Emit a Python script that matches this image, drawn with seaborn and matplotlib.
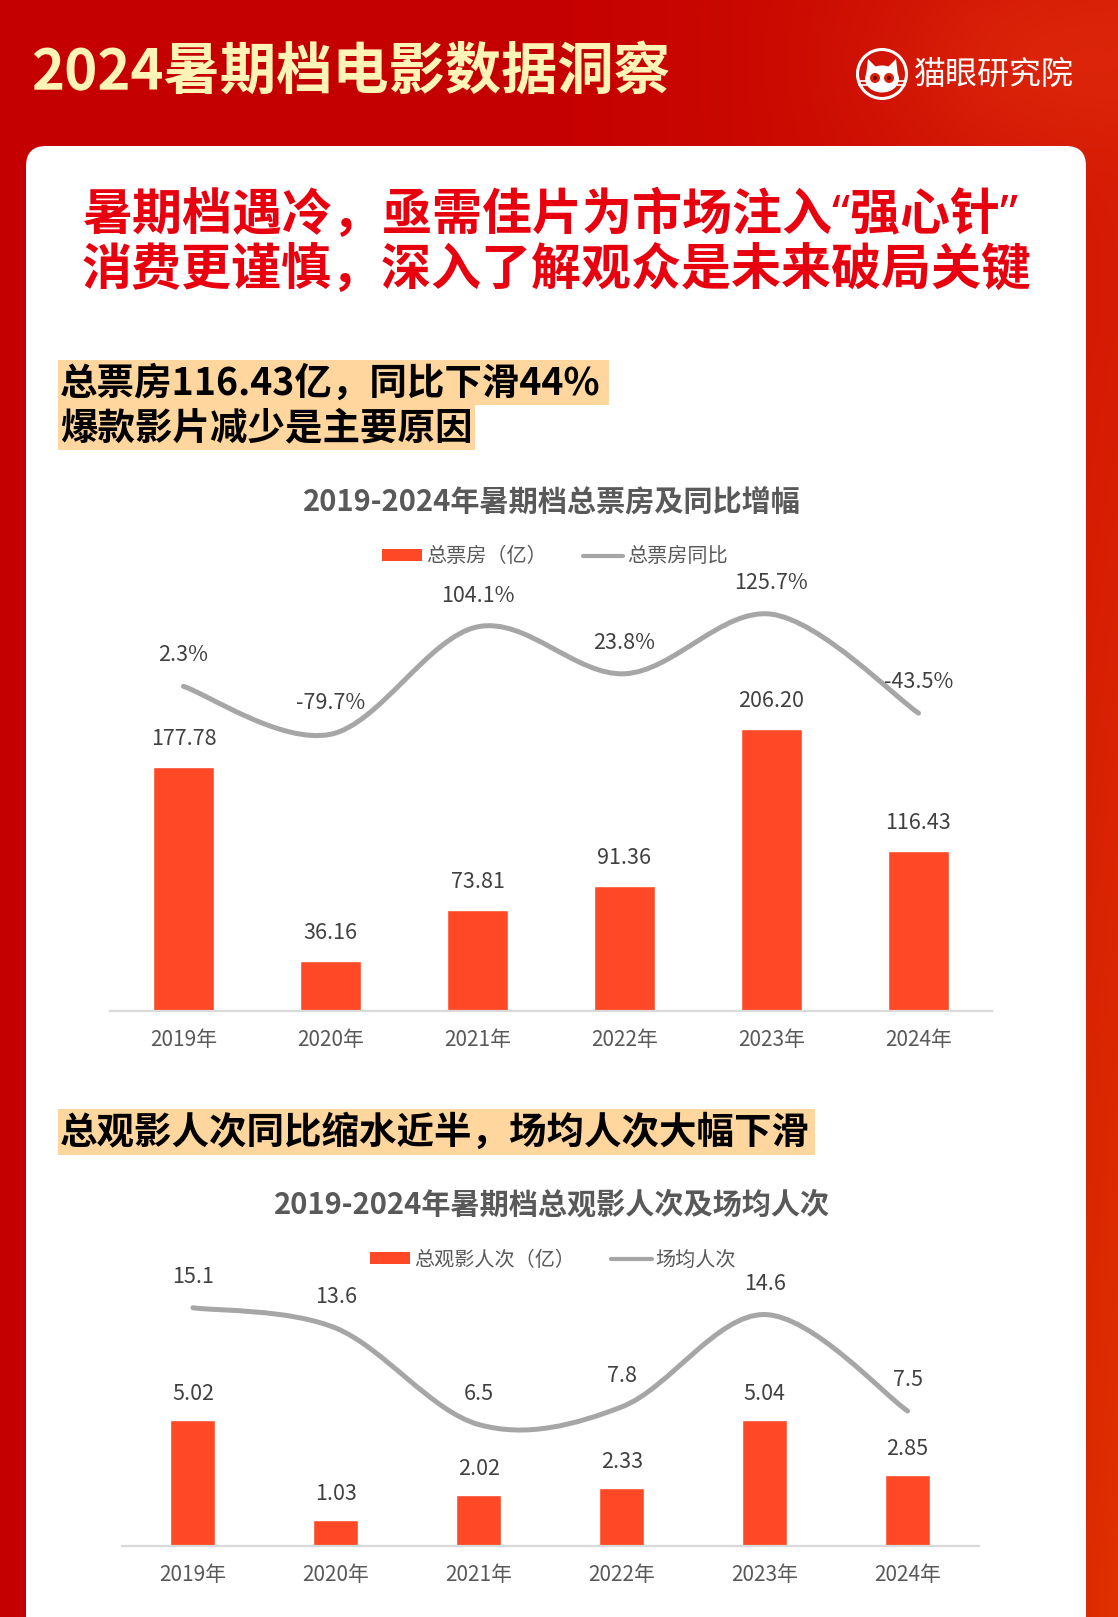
import numpy as np
import matplotlib
matplotlib.use("Agg")
import matplotlib.pyplot as plt
import seaborn as sns
from matplotlib.path import Path
from matplotlib.patches import PathPatch, FancyBboxPatch, Rectangle, Circle, Ellipse, Polygon, Patch
from matplotlib.lines import Line2D

# ---------------- data ----------------
years = ['2019年', '2020年', '2021年', '2022年', '2023年', '2024年']
box_office = [177.78, 36.16, 73.81, 91.36, 206.20, 116.43]      # 总票房（亿）
box_yoy = [2.3, -79.7, 104.1, 23.8, 125.7, -43.5]               # 总票房同比 %
admissions = [5.02, 1.03, 2.02, 2.33, 5.04, 2.85]               # 总观影人次（亿）
avg_per_show = [15.1, 13.6, 6.5, 7.8, 14.6, 7.5]                # 场均人次

title_text = '2024暑期档电影数据洞察'
brand_text = '猫眼研究院'
headline1 = '暑期档遇冷，亟需佳片为市场注入“强心针”'
headline2 = '消费更谨慎，深入了解观众是未来破局关键'
hl1_line1 = '总票房116.43亿，同比下滑44%'
hl1_line2 = '爆款影片减少是主要原因'
hl2_line1 = '总观影人次同比缩水近半，场均人次大幅下滑'
chart1_title = '2019-2024年暑期档总票房及同比增幅'
chart1_legend = ['总票房（亿）', '总票房同比']
chart2_title = '2019-2024年暑期档总观影人次及场均人次'
chart2_legend = ['总观影人次（亿）', '场均人次']

# ---------------- style ----------------
sns.set_style('white')
plt.rcParams['font.family'] = ['Noto Sans CJK SC', 'DejaVu Sans']

BAR = '#FF4926'
LINE = '#A6A6A6'
GRAY_TXT = '#595959'
LBL_TXT = '#404040'
HILITE = '#FFD69E'
HEAD_RED = '#E8000F'

W, H = 1118, 1617
fig = plt.figure(figsize=(W / 100, H / 100), dpi=100)

# background axes in pixel coordinates
bg = fig.add_axes([0, 0, 1, 1])
bg.set_xlim(0, W)
bg.set_ylim(H, 0)
bg.axis('off')

yy, xx = np.mgrid[0:H:3, 0:W:3]
t = xx / W
s = yy / H
c_left = np.array([197, 0, 0]) / 255
c_right = np.array([214, 28, 4]) / 255
tt = np.clip((t - 0.45) / 0.55, 0, 1) ** 1.3
img = c_left[None, None, :] * (1 - tt[..., None]) + c_right[None, None, :] * tt[..., None]
w_or = (np.clip((t - 0.9) / 0.1, 0, 1) * np.clip((s - 0.2) / 0.8, 0, 1))[..., None]
img = img * (1 - w_or) + (np.array([224, 50, 0]) / 255)[None, None, :] * w_or
glow = np.exp(-(((xx - 1050) / 160.0) ** 2 + ((yy - 60) / 90.0) ** 2))[..., None] * 0.5
img = img * (1 - glow) + (np.array([226, 48, 16]) / 255)[None, None, :] * glow
bg.imshow(img, extent=[0, W, H, 0], aspect='auto', zorder=0)

card = FancyBboxPatch((26, 146), 1060, 1700, boxstyle='round,pad=0,rounding_size=20',
                      fc='white', ec='none', zorder=1)
bg.add_patch(card)

# title
bg.text(31, 72, title_text, fontsize=40.5, weight='bold', color='#FFF4B8',
        ha='left', va='center', zorder=3)

# logo
cx, cy = 882, 74
bg.add_patch(Circle((cx, cy), 24.5, fill=False, ec='white', lw=2.2, zorder=3))
bg.add_patch(Ellipse((cx, cy + 5), 34, 27, fc='white', ec='none', zorder=3))
bg.add_patch(Polygon([(cx - 16, cy + 2), (cx - 14, cy - 15), (cx - 5, cy - 6)], fc='white', ec='none', zorder=3))
bg.add_patch(Polygon([(cx + 16, cy + 2), (cx + 14, cy - 15), (cx + 5, cy - 6)], fc='white', ec='none', zorder=3))
bg.add_patch(Circle((cx - 7, cy + 4), 5, fc='#D81E05', ec='none', zorder=4))
bg.add_patch(Circle((cx + 7, cy + 4), 5, fc='#D81E05', ec='none', zorder=4))
bg.add_patch(Circle((cx - 7, cy + 4), 2, fc='#6B0000', ec='none', zorder=5))
bg.add_patch(Circle((cx + 7, cy + 4), 2, fc='#6B0000', ec='none', zorder=5))
for dy in (7, 11):
    bg.plot([cx - 23, cx - 15], [cy + dy, cy + dy], color='white', lw=1.2, zorder=4)
    bg.plot([cx + 15, cx + 23], [cy + dy, cy + dy], color='white', lw=1.2, zorder=4)
bg.text(994, 75, brand_text, fontsize=23, weight='medium', color='white', ha='center', va='center', zorder=3)

# headline (line 1 uses proportional Latin quotes)
bg.text(82, 217, headline1, fontsize=36, weight='bold', color=HEAD_RED, ha='left', va='center', zorder=3,
        family=['Noto Sans', 'Noto Sans CJK SC', 'DejaVu Sans'])
bg.text(82, 270, headline2, fontsize=36, weight='bold', color=HEAD_RED, ha='left', va='center', zorder=3)

# highlight blocks
bg.add_patch(Rectangle((58, 360), 551, 45, fc=HILITE, ec='none', zorder=2))
bg.add_patch(Rectangle((58, 405), 417, 45, fc=HILITE, ec='none', zorder=2))
bg.text(60, 383, hl1_line1, fontsize=27, weight='bold', color='black', ha='left', va='center', zorder=3)
bg.text(60, 428, hl1_line2, fontsize=27, weight='bold', color='black', ha='left', va='center', zorder=3)
bg.add_patch(Rectangle((58, 1109), 757, 46, fc=HILITE, ec='none', zorder=2))
bg.text(60, 1132, hl2_line1, fontsize=27, weight='bold', color='black', ha='left', va='center', zorder=3)

# chart titles
bg.text(552, 502, chart1_title, fontsize=21, weight='bold', color=GRAY_TXT, ha='center', va='center', zorder=3)
bg.text(552, 1205, chart2_title, fontsize=21, weight='bold', color=GRAY_TXT, ha='center', va='center', zorder=3)


def smooth_path(xs, ys):
    pts = list(zip(xs, ys))
    n = len(pts)
    verts = [pts[0]]
    codes = [Path.MOVETO]
    for i in range(n - 1):
        p0 = pts[i - 1] if i > 0 else pts[i]
        p1 = pts[i]
        p2 = pts[i + 1]
        p3 = pts[i + 2] if i + 2 < n else pts[i + 1]
        c1 = (p1[0] + (p2[0] - p0[0]) / 6, p1[1] + (p2[1] - p0[1]) / 6)
        c2 = (p2[0] - (p3[0] - p1[0]) / 6, p2[1] - (p3[1] - p1[1]) / 6)
        verts += [c1, c2, p2]
        codes += [Path.CURVE4] * 3
    return Path(verts, codes)


def px_axes(x0, x1, ytop, ybot):
    return fig.add_axes([x0 / W, 1 - ybot / H, (x1 - x0) / W, (ybot - ytop) / H])


def combo_chart(x0, x1, ytop, ybot, bars, line, ylim_bar, ylim_line, bar_w,
                bar_fmt, line_fmt, bar_off, line_off, legend_labels, legend_xy):
    ax = px_axes(x0, x1, ytop, ybot)
    ax.set_facecolor('none')
    sns.barplot(x=years, y=bars, color=BAR, saturation=1, width=bar_w, errorbar=None, ax=ax, zorder=2)
    ax.set_xlim(-0.5, 5.5)
    ax.set_ylim(*ylim_bar)
    ax.set_xlabel('')
    ax.set_ylabel('')
    ax.set_yticks([])
    for sp in ('top', 'left', 'right'):
        ax.spines[sp].set_visible(False)
    ax.spines['bottom'].set_color('#D9D9D9')
    ax.spines['bottom'].set_linewidth(1.6)
    ax.tick_params(axis='x', length=0, pad=13, labelsize=15, labelcolor=GRAY_TXT)
    for i, v in enumerate(bars):
        ax.annotate(bar_fmt.format(v), (i, v), xytext=(0, bar_off), textcoords='offset pixels',
                    ha='center', va='center', fontsize=15.5, color=LBL_TXT)

    ax2 = ax.twinx()
    ax2.set_ylim(*ylim_line)
    ax2.set_xlim(-0.5, 5.5)
    ax2.axis('off')
    path = smooth_path(list(range(len(line))), line)
    ax2.add_patch(PathPatch(path, fill=False, ec=LINE, lw=3.6, capstyle='round', zorder=3))
    for i, v in enumerate(line):
        ax2.annotate(line_fmt.format(v), (i, v), xytext=(0, line_off), textcoords='offset pixels',
                     ha='center', va='center', fontsize=15.5, color=LBL_TXT)

    handles = [Patch(fc=BAR, ec='none'), Line2D([0], [0], color=LINE, lw=3)]
    fig.legend(handles, legend_labels, ncol=2, loc='center',
               bbox_to_anchor=(legend_xy[0] / W, 1 - legend_xy[1] / H), frameon=False,
               fontsize=14.5, labelcolor=GRAY_TXT, handlelength=2.0, handleheight=0.55,
               handletextpad=0.2, columnspacing=1.8)
    return ax, ax2


combo_chart(110, 992, 600, 1011, box_office, box_yoy, (0, 300), (-553, 150), 0.41,
            '{:.2f}', '{:.1f}%', 28, 31, chart1_legend, (555, 557))
combo_chart(121.5, 979, 1245, 1546, admissions, avg_per_show, (0, 12), (-2.44, 19.72), 0.315,
            '{:.2f}', '{:.1f}', 26, 31, chart2_legend, (553, 1260))

fig.savefig('out.png', dpi=100)
